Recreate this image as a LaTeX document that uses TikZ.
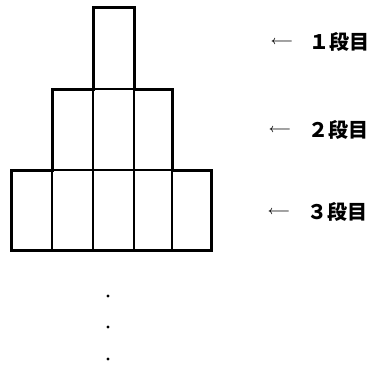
\documentclass[tikz,border=0pt]{standalone}
\usepackage{fontspec}
\newfontfamily\cjk{Noto Sans CJK JP}
\tikzset{
  thinline/.style={line width=1.4pt, black},
  thickline/.style={line width=3pt, black, line join=miter},
  lbl/.style={font=\cjk\bfseries\fontsize{20}{20}\selectfont, anchor=west, inner sep=0pt},
  arr/.style={font=\fontsize{13}{13}\selectfont\boldmath, inner sep=0pt},
  dotmark/.style={fill=black, draw=none}
}
\begin{document}
\begin{tikzpicture}[x=1pt,y=-1pt]
\useasboundingbox (0,0) rectangle (370,365);
% inner thin lines
\draw[thinline] (52,170) -- (172,170);
\draw[thinline] (93,89) -- (134,89);
\draw[thinline] (93,89) -- (93,250);
\draw[thinline] (134,89) -- (134,250);
\draw[thinline] (52,170) -- (52,250);
\draw[thinline] (172,170) -- (172,250);
% outline
\draw[thickline] (11,250) -- (11,170) -- (52,170) -- (52,89) -- (93,89) -- (93,7) -- (134,7) -- (134,89) -- (172,89) -- (172,170) -- (211,170) -- (211,250) -- cycle;
% labels
\node[arr] (a1) at (282,42) {$\longleftarrow$};
\node[arr] (a2) at (280,130) {$\longleftarrow$};
\node[arr] (a3) at (279,212) {$\longleftarrow$};
\node[lbl] (t1) at (309,42) {１段目};
\node[lbl] (t2) at (308,130) {２段目};
\node[lbl] (t3) at (307,212) {３段目};
% dots
\fill[dotmark] (108,296) circle (1.7);
\fill[dotmark] (108,327) circle (1.7);
\fill[dotmark] (108,359) circle (1.7);
\end{tikzpicture}
\end{document}
